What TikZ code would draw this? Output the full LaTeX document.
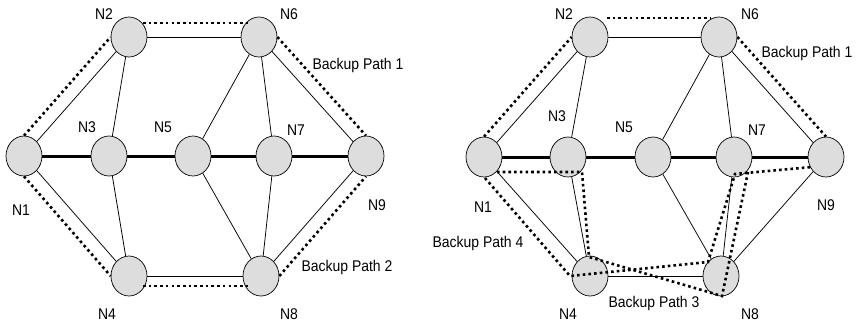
\documentclass[tikz,border=0pt]{standalone}
\usepackage{fontspec}
\setmainfont{Liberation Sans}
\usetikzlibrary{shapes.geometric}
\newcommand{\lbl}[1]{\scalebox{0.9}[1]{#1}}
\begin{document}
\begin{tikzpicture}[x=1pt,y=-1pt,
  nd/.style={ellipse,draw=black,line width=0.7pt,fill={rgb,255:red,221;green,221;blue,221},minimum width=36pt,minimum height=40pt,inner sep=0pt},
  tx/.style={inner sep=0pt,font=\fontsize{15.5}{17}\selectfont},
  thin/.style={line width=0.75pt,black},
  thick/.style={line width=3pt,black},
  bkp/.style={line width=2.6pt,dash pattern=on 2.6pt off 3.1pt,black}]
\useasboundingbox (0,0) rectangle (858,325);
% ---------- left diagram
\node[nd] (L1) at (24,156) {};
\node[nd] (L3) at (109,156) {};
\node[nd] (L5) at (193,156) {};
\node[nd] (L7) at (274,156) {};
\node[nd] (L9) at (366,156) {};
\node[nd] (L2) at (129,37) {};
\node[nd] (L6) at (259,37) {};
\node[nd] (L4) at (129,276) {};
\node[nd] (L8) at (261,276) {};
% ---------- right diagram
\node[nd] (R1) at (484,157) {};
\node[nd] (R3) at (568,157) {};
\node[nd] (R5) at (653,157) {};
\node[nd] (R7) at (734,157) {};
\node[nd] (R9) at (826,157) {};
\node[nd] (R2) at (590,37) {};
\node[nd] (R6) at (719,37) {};
\node[nd] (R4) at (590,276) {};
\node[nd] (R8) at (721,276) {};
% edges
\foreach \p in {L,R}{
  \draw[thin] (\p1) -- (\p2);
  \draw[thin] (\p2) -- (\p3);
  \draw[thin] (\p2) -- (\p6);
  \draw[thin] (\p6) -- (\p5);
  \draw[thin] (\p6) -- (\p7);
  \draw[thin] (\p6) -- (\p9);
  \draw[thin] (\p1) -- (\p4);
  \draw[thin] (\p3) -- (\p4);
  \draw[thin] (\p4) -- (\p8);
  \draw[thin] (\p5) -- (\p8);
  \draw[thin] (\p7) -- (\p8);
  \draw[thin] (\p8) -- (\p9);
  \draw[thick] (\p1) -- (\p3);
  \draw[thick] (\p3) -- (\p5);
  \draw[thick] (\p5) -- (\p7);
  \draw[thick] (\p7) -- (\p9);
}
% backup paths left
\coordinate (la) at (143,23);
\coordinate (lb) at (248,23);
\coordinate (lc) at (143,286);
\coordinate (ld) at (248,286);
\draw[bkp] (L1.north) -- (L2.west);
\draw[bkp] (la) -- (lb);
\draw[bkp] (L6.east) -- (L9.north);
\draw[bkp] (L1.south) -- (L4.west);
\draw[bkp] (lc) -- (ld);
\draw[bkp] (L8.east) -- (L9.south);
% backup paths right
\coordinate (ra) at (607,18);
\coordinate (rb) at (710,18);
\draw[bkp] (R1.north) -- (R2.west);
\draw[bkp] (ra) -- (rb);
\draw[bkp] (R6.east) -- (R9.north);
\coordinate (p3a) at (497,172);
\coordinate (p3b) at (582,172);
\coordinate (p3c) at (589,257);
\coordinate (p3d) at (722,296);
\coordinate (p3e) at (748,172);
\coordinate (p4a) at (485,178);
\coordinate (p4b) at (570,276);
\coordinate (p4c) at (708,262);
\coordinate (p4d) at (735,174);
\coordinate (p4e) at (812,167);
\draw[bkp] (p3a) -- (p3b) -- (p3c) -- (p3d) -- (p3e);
\draw[bkp] (p4a) -- (p4b) -- (p4c) -- (p4d) -- (p4e);
% labels left
\node[tx] (tL2) at (104,14) {\lbl{N2}};
\node[tx] (tL6) at (289,14) {\lbl{N6}};
\node[tx] (tLb1) at (358,65) {\lbl{Backup Path 1}};
\node[tx] (tL3) at (87,127) {\lbl{N3}};
\node[tx] (tL5) at (163,127) {\lbl{N5}};
\node[tx] (tL7) at (296,130) {\lbl{N7}};
\node[tx] (tL1) at (21,210) {\lbl{N1}};
\node[tx] (tL9) at (377,205) {\lbl{N9}};
\node[tx] (tLb2) at (347,267) {\lbl{Backup Path 2}};
\node[tx] (tL4) at (107,314) {\lbl{N4}};
\node[tx] (tL8) at (289,314) {\lbl{N8}};
% labels right
\node[tx] (tR2) at (564,14) {\lbl{N2}};
\node[tx] (tR6) at (750,14) {\lbl{N6}};
\node[tx] (tRb1) at (807,53) {\lbl{Backup Path 1}};
\node[tx] (tR3) at (557,116) {\lbl{N3}};
\node[tx] (tR5) at (624,127) {\lbl{N5}};
\node[tx] (tR7) at (757,130) {\lbl{N7}};
\node[tx] (tR1) at (483,207) {\lbl{N1}};
\node[tx] (tRb4) at (478,243) {\lbl{Backup Path 4}};
\node[tx] (tR9) at (826,205) {\lbl{N9}};
\node[tx] (tRb3) at (654,303) {\lbl{Backup Path 3}};
\node[tx] (tR4) at (568,314) {\lbl{N4}};
\node[tx] (tR8) at (750,314) {\lbl{N8}};
\end{tikzpicture}
\end{document}
